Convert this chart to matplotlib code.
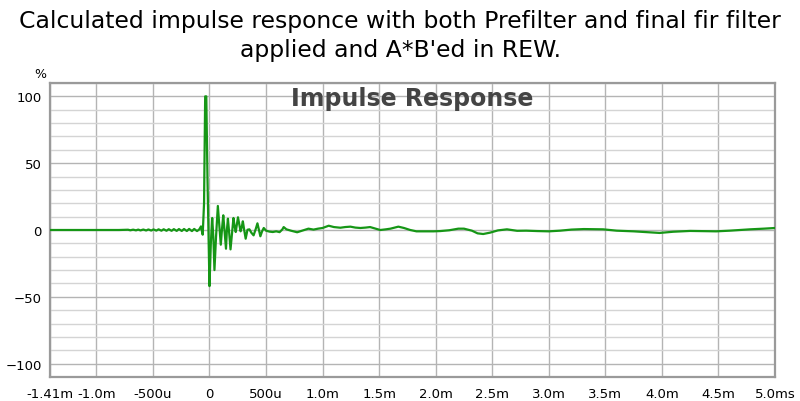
import matplotlib
matplotlib.use("Agg")
import matplotlib.pyplot as plt
from matplotlib.ticker import MultipleLocator

# impulse response (time in ms, level in %)
time_ms = [
    -1.41, -0.80, -0.72, -0.70, -0.675, -0.65, -0.63, -0.61, -0.585, -0.56,
    -0.54, -0.515, -0.495, -0.47, -0.45, -0.425, -0.405, -0.38, -0.36, -0.335,
    -0.315, -0.29, -0.27, -0.245, -0.225, -0.20, -0.18, -0.155, -0.135, -0.11,
    -0.09, -0.075, -0.06, -0.048, -0.038, -0.028, -0.018, 0.0, 0.012, 0.024,
    0.034, 0.044, 0.058, 0.074, 0.088, 0.10, 0.112, 0.122, 0.134, 0.146,
    0.154, 0.163, 0.175, 0.186, 0.20, 0.212, 0.222, 0.232, 0.242, 0.252,
    0.264, 0.275, 0.285, 0.295, 0.307, 0.32, 0.336, 0.353, 0.37, 0.39,
    0.41, 0.424, 0.437, 0.45, 0.465, 0.48, 0.50, 0.53, 0.56, 0.59,
    0.62, 0.645, 0.656, 0.68, 0.72, 0.775, 0.82, 0.875, 0.92, 0.96,
    1.0, 1.054, 1.1, 1.157, 1.2, 1.246, 1.29, 1.334, 1.38, 1.42,
    1.47, 1.51, 1.56, 1.6, 1.67, 1.72, 1.775, 1.83, 1.92, 1.98,
    2.04, 2.12, 2.2, 2.25, 2.32, 2.37, 2.42, 2.48, 2.55, 2.63,
    2.72, 2.8, 2.9, 3.0, 3.1, 3.2, 3.31, 3.48, 3.6, 3.75,
    3.85, 3.98, 4.1, 4.25, 4.48, 4.6, 4.78, 4.9, 5.0,
]
level_pct = [
    0, 0, 0.2, -0.2, 0.25, -0.25, 0.3, -0.3, 0.35, -0.35,
    0.4, -0.4, 0.45, -0.45, 0.5, -0.5, 0.55, -0.55, 0.6, -0.6,
    0.65, -0.65, 0.7, -0.7, 0.75, -0.75, 0.8, -0.8, 0.8, -0.8,
    0.5, 2.7, -3.5, 20, 100, 100, 40, -42, -10, 9,
    -5, -30, -5, 18, 2, -11, 2, 11, -2, -14,
    0, 8.5, -3, -14.5, -2, 9, 3, -1.5, 4, 9.5,
    4, -1, 2, 6.5, 0, -6.5, 0.2, 0.5, -2, -4,
    1, 5, 0, -4.7, -1, 1.5, -0.5, -1.2, -1.5, -1.0,
    -1.6, 0.5, 2.2, 0.5, -0.5, -1.7, -0.5, 1.0, 0.3, 1.0,
    1.5, 3.2, 2.2, 1.7, 2.2, 2.5, 1.8, 1.5, 1.8, 2.2,
    1.0, 0.0, 0.5, 1.0, 2.5, 1.5, 0, -1.0, -1.0, -1.0,
    -0.8, -0.2, 1.0, 1.0, -0.5, -2.5, -3.0, -2.0, -0.3, 0.5,
    -0.6, -0.5, -0.8, -1.0, -0.5, 0.3, 0.7, 0.5, -0.5, -1.0,
    -1.5, -2.2, -1.3, -0.7, -1.0, -0.5, 0.5, 1.0, 1.5,
]

xtick_pos = [-1.41, -1.0, -0.5, 0, 0.5, 1.0, 1.5, 2.0, 2.5, 3.0, 3.5, 4.0, 4.5, 5.0]
xtick_lab = ['-1.41m', '-1.0m', '-500u', '0', '500u', '1.0m', '1.5m', '2.0m',
             '2.5m', '3.0m', '3.5m', '4.0m', '4.5m', '5.0ms']
ytick_pos = [-100, -50, 0, 50, 100]

fig = plt.figure(figsize=(8, 4.02), dpi=100)
ax = fig.add_axes([50 / 800, 1 - 378 / 402, 725 / 800, 294 / 402])

ax.plot(time_ms, level_pct, color='#169616', lw=1.6, zorder=3)

ax.set_xlim(-1.41, 5.0)
ax.set_ylim(-110, 110)

ax.set_xticks(xtick_pos)
ax.set_xticklabels(xtick_lab)
ax.set_yticks(ytick_pos)
ax.yaxis.set_minor_locator(MultipleLocator(10))
ax.tick_params(which='both', length=0, labelsize=9.5, pad=6)
ax.tick_params(axis='x', pad=7)

ax.grid(which='major', color='#b4b4b4', lw=1.0)
ax.grid(which='minor', axis='y', color='#d4d4d4', lw=1.0)
ax.set_axisbelow(True)
for s in ax.spines.values():
    s.set_color('#9a9a9a')
    s.set_linewidth(1.6)

ax.text(0.5, 1 - 15 / 294, 'Impulse Response', transform=ax.transAxes,
        ha='center', va='center', fontsize=17, fontweight='bold', color='#444444')
fig.text(40 / 800, 1 - 75 / 402, '%', ha='center', va='center', fontsize=9)

fig.text(0.5, 1 - 28 / 402, 'Calculated impulse responce with both Prefilter and final fir filter',
         ha='center', va='baseline', fontsize=16.9)
fig.text(0.5, 1 - 57 / 402, "applied and A*B'ed in REW.",
         ha='center', va='baseline', fontsize=16.9)

fig.savefig('out.png', dpi=100)
